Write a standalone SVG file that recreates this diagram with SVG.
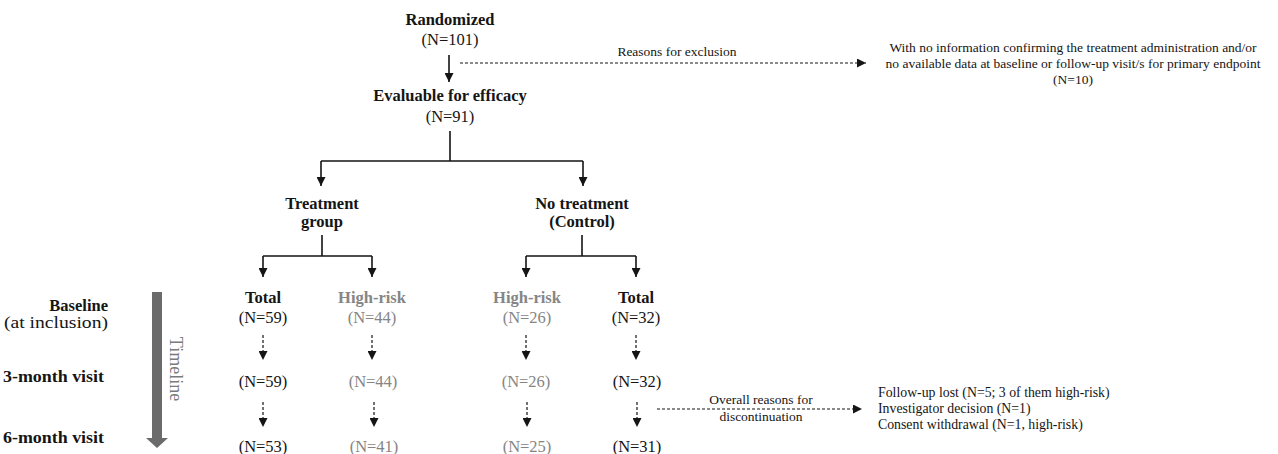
<svg xmlns="http://www.w3.org/2000/svg" width="1278" height="454" viewBox="0 0 1278 454">
<style>
text{font-family:"Liberation Serif","Times New Roman",serif;}
.b{font-weight:bold;font-size:16.5px;fill:#151515;text-anchor:middle}
.r{font-size:16.5px;fill:#151515;text-anchor:middle}
.g{fill:#858585}
.s{font-size:13.5px;fill:#151515;text-anchor:middle}
.l{font-size:13.8px;fill:#151515}
.ln{stroke:#151515;stroke-width:1.6;fill:none}
.dl{stroke:#151515;stroke-width:1.2;stroke-dasharray:3 2;fill:none}
</style>
<defs>
<marker id="ah" viewBox="0 0 10 10" refX="10" refY="5" markerWidth="9" markerHeight="9" markerUnits="userSpaceOnUse" orient="auto">
<path d="M0,0 L10,5 L0,10 z" fill="#151515"/>
</marker>
</defs>
<rect width="1278" height="454" fill="#fff"/>

<g id="connectors">
<path class="ln" d="M449,55 V82" marker-end="url(#ah)"/>
<path class="dl" d="M460,63 H866" marker-end="url(#ah)"/>
<path class="ln" d="M450,131 V161 M321,161 H583"/>
<path class="ln" d="M321,161 V186" marker-end="url(#ah)"/>
<path class="ln" d="M583,161 V186" marker-end="url(#ah)"/>
<path class="ln" d="M322,235 V256 M263,256 H372"/>
<path class="ln" d="M263,256 V277" marker-end="url(#ah)"/>
<path class="ln" d="M372,256 V277" marker-end="url(#ah)"/>
<path class="ln" d="M582,235 V256 M526,256 H636"/>
<path class="ln" d="M526,256 V277" marker-end="url(#ah)"/>
<path class="ln" d="M636,256 V277" marker-end="url(#ah)"/>
<path class="dl" d="M263,335 V360" marker-end="url(#ah)"/>
<path class="dl" d="M372,335 V360" marker-end="url(#ah)"/>
<path class="dl" d="M526,335 V360" marker-end="url(#ah)"/>
<path class="dl" d="M636,335 V360" marker-end="url(#ah)"/>
<path class="dl" d="M263,402 V427" marker-end="url(#ah)"/>
<path class="dl" d="M374,402 V427" marker-end="url(#ah)"/>
<path class="dl" d="M527,402 V427" marker-end="url(#ah)"/>
<path class="dl" d="M637,402 V427" marker-end="url(#ah)"/>
<path class="dl" d="M657,409 H862" marker-end="url(#ah)"/>
</g>

<g id="timeline">
<polygon points="152,292 162,292 162,438 168,438 157,448 146,438 152,438" fill="#6b6b6b"/>
<text transform="translate(170,369) rotate(90)" style="font-size:18px;fill:#7a7a7a;text-anchor:middle">Timeline</text>
</g>

<g id="row-labels">
<text x="108" y="311" style="font-weight:bold;font-size:16.5px;fill:#151515;text-anchor:end">Baseline</text>
<text x="4" y="328" textLength="104" lengthAdjust="spacingAndGlyphs" style="font-size:16.5px;fill:#151515">(at inclusion)</text>
<text x="3" y="382" textLength="101" lengthAdjust="spacingAndGlyphs" style="font-weight:bold;font-size:16.5px;fill:#151515">3-month visit</text>
<text x="3" y="443" textLength="101" lengthAdjust="spacingAndGlyphs" style="font-weight:bold;font-size:16.5px;fill:#151515">6-month visit</text>
</g>

<g id="randomized">
<text class="b" x="450" y="25">Randomized</text>
<text class="r" x="450" y="45">(N=101)</text>
</g>

<g id="exclusion-label">
<text class="s" x="677" y="56">Reasons for exclusion</text>
</g>

<g id="excluded">
<text class="s" x="1073" y="52">With no information confirming the treatment administration and/or</text>
<text class="s" x="1073" y="68">no available data at baseline or follow-up visit/s for primary endpoint</text>
<text class="s" x="1073" y="84">(N=10)</text>
</g>

<g id="evaluable">
<text class="b" x="450" y="101">Evaluable for efficacy</text>
<text class="r" x="450" y="122">(N=91)</text>
</g>

<g id="treatment-group">
<text class="b" x="322" y="209">Treatment</text>
<text class="b" x="322" y="227">group</text>
</g>

<g id="control-group">
<text class="b" x="582" y="209">No treatment</text>
<text class="b" x="582" y="227">(Control)</text>
</g>

<g id="treat-total">
<text class="b" x="263" y="303">Total</text>
<text class="r" x="263" y="323">(N=59)</text>
<text class="r" x="263" y="387">(N=59)</text>
<text class="r" x="263" y="452">(N=53)</text>
</g>

<g id="treat-highrisk">
<text class="b g" x="372" y="303">High-risk</text>
<text class="r g" x="372" y="323">(N=44)</text>
<text class="r g" x="373" y="387">(N=44)</text>
<text class="r g" x="374" y="452">(N=41)</text>
</g>

<g id="control-highrisk">
<text class="b g" x="527" y="303">High-risk</text>
<text class="r g" x="527" y="323">(N=26)</text>
<text class="r g" x="526" y="387">(N=26)</text>
<text class="r g" x="527" y="452">(N=25)</text>
</g>

<g id="control-total">
<text class="b" x="636" y="303">Total</text>
<text class="r" x="636" y="323">(N=32)</text>
<text class="r" x="637" y="387">(N=32)</text>
<text class="r" x="637" y="452">(N=31)</text>
</g>

<g id="discontinuation-label">
<text class="s" x="761" y="404">Overall reasons for</text>
<text class="s" x="761" y="421">discontinuation</text>
</g>

<g id="discontinuation-reasons">
<text class="l" x="878" y="397">Follow-up lost (N=5; 3 of them high-risk)</text>
<text class="l" x="878" y="413">Investigator decision (N=1)</text>
<text class="l" x="878" y="429">Consent withdrawal (N=1, high-risk)</text>
</g>
</svg>
